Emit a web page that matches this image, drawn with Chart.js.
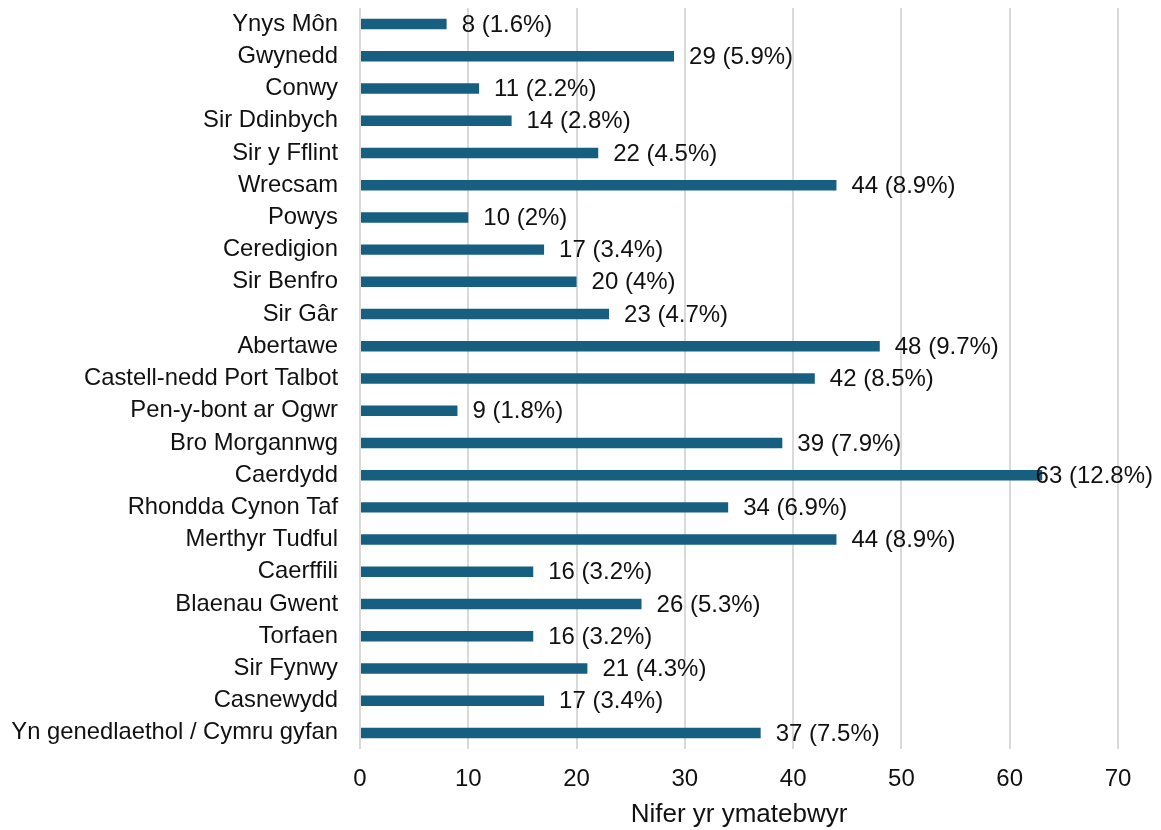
<!DOCTYPE html>
<html lang="cy">
<head>
<meta charset="utf-8">
<title>Nifer yr ymatebwyr</title>
<script src="https://cdn.jsdelivr.net/npm/chart.js"></script>
<style>
  body { margin: 0; background: #fff; }
</style>
</head>
<body>
<canvas id="chart" width="1161" height="830"></canvas>
<script>
// categories, top to bottom
const areas = [
  'Ynys Môn', 'Gwynedd', 'Conwy', 'Sir Ddinbych', 'Sir y Fflint', 'Wrecsam',
  'Powys', 'Ceredigion', 'Sir Benfro', 'Sir Gâr', 'Abertawe',
  'Castell-nedd Port Talbot', 'Pen-y-bont ar Ogwr', 'Bro Morgannwg', 'Caerdydd',
  'Rhondda Cynon Taf', 'Merthyr Tudful', 'Caerffili', 'Blaenau Gwent', 'Torfaen',
  'Sir Fynwy', 'Casnewydd', 'Yn genedlaethol / Cymru gyfan'
];
const counts = [8, 29, 11, 14, 22, 44, 10, 17, 20, 23, 48, 42, 9, 39, 63, 34, 44, 16, 26, 16, 21, 17, 37];
const percents = ['1.6%', '5.9%', '2.2%', '2.8%', '4.5%', '8.9%', '2%', '3.4%', '4%', '4.7%', '9.7%',
  '8.5%', '1.8%', '7.9%', '12.8%', '6.9%', '8.9%', '3.2%', '5.3%', '3.2%', '4.3%', '3.4%', '7.5%'];
const xTicks = [0, 10, 20, 30, 40, 50, 60, 70];

const FONT = '"Liberation Sans", Arial, sans-serif';

// value labels at the end of each bar, kept inside the canvas
const barLabels = {
  id: 'barLabels',
  afterDatasetsDraw(chart) {
    const ctx = chart.ctx;
    const meta = chart.getDatasetMeta(0);
    ctx.save();
    ctx.font = '24px ' + FONT;
    ctx.fillStyle = '#111';
    ctx.textBaseline = 'middle';
    ctx.textAlign = 'left';
    meta.data.forEach((bar, i) => {
      const text = counts[i] + ' (' + percents[i] + ')';
      const w = ctx.measureText(text).width;
      const x = Math.min(bar.x + 15, chart.width - w - 8);
      ctx.fillText(text, x, bar.y + 1);
    });
    ctx.restore();
  }
};

new Chart(document.getElementById('chart'), {
  type: 'bar',
  data: {
    labels: areas,
    datasets: [{
      data: counts,
      backgroundColor: '#175f80',
      barPercentage: 0.65,
      categoryPercentage: 0.5
    }]
  },
  options: {
    indexAxis: 'y',
    responsive: false,
    animation: false,
    layout: { padding: { top: 8, right: 43, bottom: 0, left: 0 } },
    plugins: {
      legend: { display: false },
      tooltip: { enabled: false }
    },
    scales: {
      x: {
        min: 0,
        max: 70,
        afterBuildTicks(axis) { axis.ticks = xTicks.map(v => ({ value: v })); },
        afterFit(axis) { axis.height = 81; },
        grid: { color: '#d9d9d9', lineWidth: 2, drawTicks: false },
        border: { display: false },
        ticks: { font: { size: 24, family: FONT }, color: '#111', padding: 16 },
        title: {
          display: true,
          text: 'Nifer yr ymatebwyr',
          font: { size: 26, family: FONT },
          color: '#111',
          padding: { top: 0, bottom: 0 }
        }
      },
      y: {
        afterFit(axis) {
          axis.width = 360;
          axis.paddingTop = 0;
          axis.paddingBottom = 0;
        },
        grid: { display: false },
        border: { display: false },
        ticks: { autoSkip: false, font: { size: 23.8, family: FONT }, color: '#111', padding: 14 }
      }
    }
  },
  plugins: [barLabels]
});
</script>
</body>
</html>
